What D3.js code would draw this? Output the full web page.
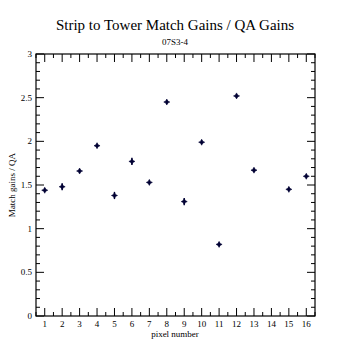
<!doctype html>
<html>
<head>
<meta charset="utf-8">
<script src="https://cdn.jsdelivr.net/npm/d3@7"></script>
<style>
  body { margin: 0; background: #fff; }
  text { font-family: "Liberation Serif", "DejaVu Serif", serif; fill: #000; }
</style>
</head>
<body>
<div id="chart"></div>
<script>
// values (pixel 14 has no point)
var pixels = [1, 2, 3, 4, 5, 6, 7, 8, 9, 10, 11, 12, 13, 15, 16];
var ratios = [1.44, 1.48, 1.66, 1.95, 1.38, 1.77, 1.53, 2.45, 1.31, 1.99, 0.82, 2.52, 1.67, 1.45, 1.60];
var errors = [0.01, 0.03, 0.01, 0.01, 0.03, 0.03, 0.01, 0.01, 0.03, 0.01, 0.01, 0.01, 0.01, 0.01, 0.01];
var xTicks = d3.range(1, 17);
var yTicks = [0, 0.5, 1, 1.5, 2, 2.5, 3];

var W = 350, H = 350;
var margin = { top: 54, right: 35, bottom: 34, left: 36 };
var width = W - margin.left - margin.right,
    height = H - margin.top - margin.bottom;

var svg = d3.select("#chart").append("svg")
  .attr("width", W).attr("height", H);

var g = svg.append("g")
  .attr("transform", "translate(" + margin.left + "," + margin.top + ")");

var x = d3.scaleLinear().domain([0.5, 16.5]).range([0, width]);
var y = d3.scaleLinear().domain([0, 3]).range([height, 0]);

// frame
g.append("rect")
  .attr("width", width).attr("height", height)
  .attr("fill", "none").attr("stroke", "#000").attr("stroke-width", 1.2);

var xMinor = d3.range(0.5, 16.6, 0.5).filter(function (d) { return d % 1 !== 0; });
var yMinor = d3.range(0, 3.001, 0.1).filter(function (d) { return Math.abs(d * 2 - Math.round(d * 2)) > 1e-6; });

// bottom / top ticks (inward)
function tickLines(vals, len, horiz) {
  vals.forEach(function (v) {
    if (horiz) {
      g.append("line").attr("x1", x(v)).attr("x2", x(v)).attr("y1", height).attr("y2", height - len)
        .attr("stroke", "#000");
      g.append("line").attr("x1", x(v)).attr("x2", x(v)).attr("y1", 0).attr("y2", len)
        .attr("stroke", "#000");
    } else {
      g.append("line").attr("y1", y(v)).attr("y2", y(v)).attr("x1", 0).attr("x2", len)
        .attr("stroke", "#000");
      g.append("line").attr("y1", y(v)).attr("y2", y(v)).attr("x1", width).attr("x2", width - len)
        .attr("stroke", "#000");
    }
  });
}
tickLines(xTicks, 8, true);
tickLines(xMinor, 4, true);
tickLines(yTicks, 8, false);
tickLines(yMinor, 4, false);

// tick labels
g.selectAll(".xl").data(xTicks).enter().append("text")
  .attr("x", function (d) { return x(d); })
  .attr("y", height + 11)
  .attr("text-anchor", "middle")
  .style("font-size", "9px")
  .text(function (d) { return d; });

g.selectAll(".yl").data(yTicks).enter().append("text")
  .attr("x", -4)
  .attr("y", function (d) { return y(d) + 3; })
  .attr("text-anchor", "end")
  .style("font-size", "9px")
  .text(function (d) { return d; });

// points with error bars
var pts = pixels.map(function (p, i) { return { p: p, v: ratios[i], e: errors[i] }; });
var col = "#000033";

g.selectAll(".err").data(pts).enter().append("line")
  .attr("x1", function (d) { return x(d.p); })
  .attr("x2", function (d) { return x(d.p); })
  .attr("y1", function (d) { return y(d.v + d.e) - 1; })
  .attr("y2", function (d) { return y(d.v - d.e) + 1; })
  .attr("stroke", col).attr("stroke-width", 1.4);

g.selectAll(".pt").data(pts).enter().append("path")
  .attr("transform", function (d) { return "translate(" + x(d.p) + "," + y(d.v) + ")"; })
  .attr("d", "M0,-3L1,-1L3,0L1,1L0,3L-1,1L-3,0L-1,-1Z")
  .attr("fill", col).attr("stroke", col).attr("stroke-width", 0.6);

// titles
svg.append("text").attr("x", 175).attr("y", 30).attr("text-anchor", "middle")
  .style("font-size", "15px").text("Strip to Tower Match Gains / QA Gains");
svg.append("text").attr("x", 175).attr("y", 45).attr("text-anchor", "middle")
  .style("font-size", "9px").text("07S3-4");
svg.append("text").attr("x", 175).attr("y", 337).attr("text-anchor", "middle")
  .style("font-size", "9px").text("pixel number");
svg.append("text")
  .attr("transform", "translate(15," + (margin.top + height / 2) + ") rotate(-90)")
  .attr("text-anchor", "middle")
  .style("font-size", "9px").text("Match gains / QA");
</script>
</body>
</html>
